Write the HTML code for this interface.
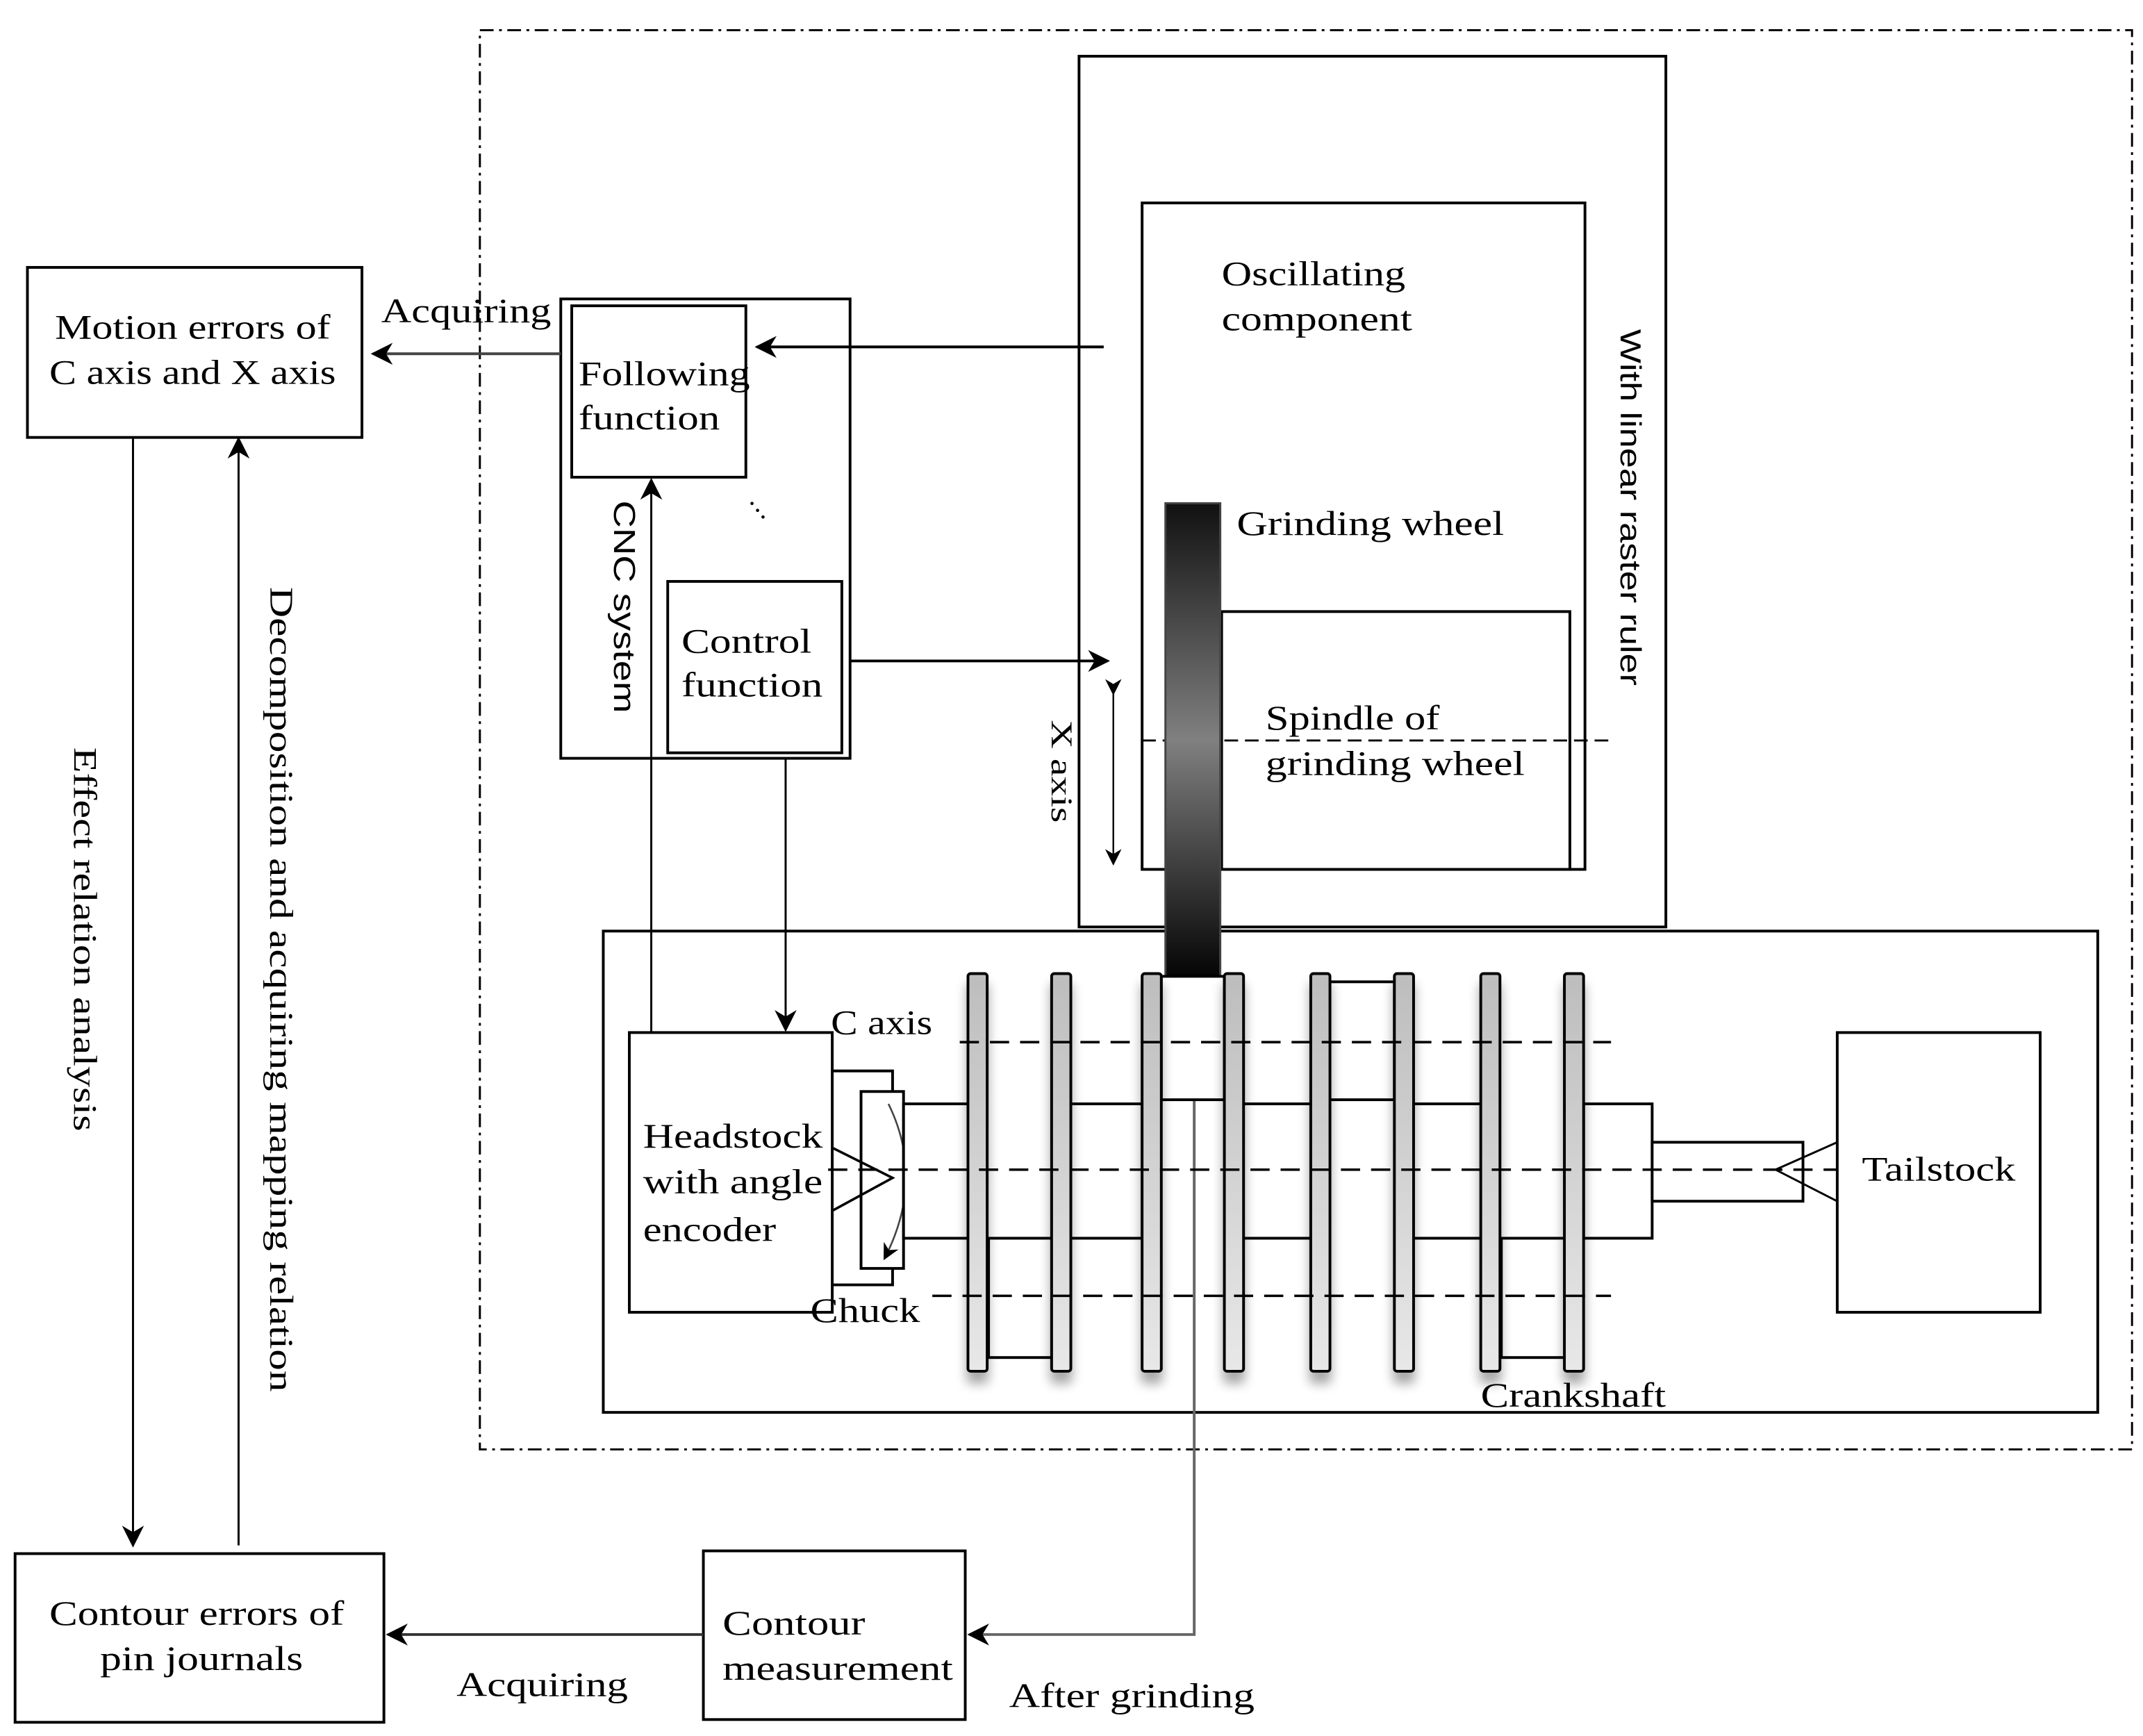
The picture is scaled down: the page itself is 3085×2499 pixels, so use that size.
<!DOCTYPE html>
<html><head><meta charset="utf-8"><style>html,body{margin:0;padding:0;background:#fff}svg{display:block}</style></head>
<body>
<svg width="3085" height="2499" viewBox="0 0 1563 1266" preserveAspectRatio="none" xmlns="http://www.w3.org/2000/svg" font-family="Liberation Serif, serif" font-size="25" fill="none" stroke="#000">
<defs>
<marker id="a" viewBox="0 0 10 10" refX="9" refY="5" markerWidth="12" markerHeight="12" markerUnits="userSpaceOnUse" orient="auto"><path d="M0,0 L10,5 L0,10 L3,5 z" fill="#000" stroke="none"/></marker>
<marker id="b" viewBox="0 0 10 10" refX="9" refY="5" markerWidth="16" markerHeight="16" markerUnits="userSpaceOnUse" orient="auto"><path d="M0,0 L10,5 L0,10 L3,5 z" fill="#000" stroke="none"/></marker>
<linearGradient id="gw" x1="0" y1="0" x2="0" y2="1"><stop offset="0" stop-color="#111"/><stop offset="0.5" stop-color="#808080"/><stop offset="1" stop-color="#050505"/></linearGradient>
<linearGradient id="web" x1="0" y1="0" x2="0" y2="1"><stop offset="0" stop-color="#bdbdbd"/><stop offset="1" stop-color="#e8e8e8"/></linearGradient>
<filter id="sh" x="-50%" y="-10%" width="200%" height="130%"><feGaussianBlur in="SourceAlpha" stdDeviation="4"/><feOffset dy="8"/><feComponentTransfer><feFuncA type="linear" slope="0.35"/></feComponentTransfer><feMerge><feMergeNode/><feMergeNode in="SourceGraphic"/></feMerge></filter>
</defs>
<rect x="350" y="22" width="1205" height="1035" stroke-width="1.5" stroke-dasharray="10,4,2,4"/>
<rect x="787" y="41" width="428" height="635" stroke-width="2"/>
<rect x="833" y="148" width="323" height="486" stroke-width="2"/>
<rect x="891" y="446" width="254" height="188" stroke-width="2"/>
<line x1="833" y1="540" x2="1178" y2="540" stroke-width="1.5" stroke-dasharray="10,5"/>
<rect x="440" y="679" width="1090" height="351" stroke-width="2"/>
<rect x="850" y="367" width="40" height="345" fill="url(#gw)" stroke="#444" stroke-width="1.5"/>
<g fill="#000" stroke="none" lengthAdjust="spacingAndGlyphs">
<text x="891" y="208" textLength="134" lengthAdjust="spacingAndGlyphs">Oscillating</text>
<text x="891" y="241" textLength="139" lengthAdjust="spacingAndGlyphs">component</text>
<text x="902" y="390" textLength="195" lengthAdjust="spacingAndGlyphs">Grinding wheel</text>
<text x="923" y="532" textLength="127" lengthAdjust="spacingAndGlyphs">Spindle of</text>
<text x="923" y="565" textLength="189" lengthAdjust="spacingAndGlyphs">grinding wheel</text>
<text transform="translate(1182,240) rotate(90)" font-family="Liberation Sans, sans-serif" font-size="21" textLength="260" lengthAdjust="spacingAndGlyphs">With linear raster ruler</text>
<text transform="translate(767,525) rotate(90)" font-size="22" textLength="75" lengthAdjust="spacingAndGlyphs">X axis</text>
<text x="278" y="235" textLength="124" lengthAdjust="spacingAndGlyphs">Acquiring</text>
<text x="40" y="247" textLength="201" lengthAdjust="spacingAndGlyphs">Motion errors of</text>
<text x="36" y="280" textLength="209" lengthAdjust="spacingAndGlyphs">C axis and X axis</text>
<text x="422" y="281" textLength="125" lengthAdjust="spacingAndGlyphs">Following</text>
<text x="422" y="313" textLength="103" lengthAdjust="spacingAndGlyphs">function</text>
<text x="497" y="476" textLength="95" lengthAdjust="spacingAndGlyphs">Control</text>
<text x="497" y="508" textLength="103" lengthAdjust="spacingAndGlyphs">function</text>
<text transform="translate(448,365) rotate(90)" font-family="Liberation Sans, sans-serif" font-size="22" textLength="155" lengthAdjust="spacingAndGlyphs">CNC system</text>
<text x="546" y="368" font-size="20">.</text><text x="550" y="373" font-size="20">.</text><text x="554" y="378" font-size="20">.</text>
<text transform="translate(54,545) rotate(90)" font-size="24" textLength="280" lengthAdjust="spacingAndGlyphs">Effect relation analysis</text>
<text transform="translate(197,428) rotate(90)" font-size="24" textLength="587" lengthAdjust="spacingAndGlyphs">Decomposition and acquiring mapping relation</text>
<text x="36" y="1185" textLength="215" lengthAdjust="spacingAndGlyphs">Contour errors of</text>
<text x="73" y="1218" textLength="148" lengthAdjust="spacingAndGlyphs">pin journals</text>
<text x="527" y="1192" textLength="104" lengthAdjust="spacingAndGlyphs">Contour</text>
<text x="527" y="1225" textLength="168" lengthAdjust="spacingAndGlyphs">measurement</text>
<text x="333" y="1237" textLength="125" lengthAdjust="spacingAndGlyphs">Acquiring</text>
<text x="736" y="1245" textLength="179" lengthAdjust="spacingAndGlyphs">After grinding</text>
<text x="469" y="837" textLength="131" lengthAdjust="spacingAndGlyphs">Headstock</text>
<text x="469" y="870" textLength="131" lengthAdjust="spacingAndGlyphs">with angle</text>
<text x="469" y="905" textLength="97" lengthAdjust="spacingAndGlyphs">encoder</text>
<text x="606" y="754" textLength="74" lengthAdjust="spacingAndGlyphs">C axis</text>
<text x="591" y="964" textLength="80" lengthAdjust="spacingAndGlyphs">Chuck</text>
<text x="1080" y="1026" textLength="135" lengthAdjust="spacingAndGlyphs">Crankshaft</text>
<text x="1358" y="861" textLength="112" lengthAdjust="spacingAndGlyphs">Tailstock</text>
</g>
<rect x="20" y="195" width="244" height="124" stroke-width="2"/>
<rect x="409" y="218" width="211" height="335" stroke-width="2"/>
<rect x="417" y="223" width="127" height="125" stroke-width="2"/>
<rect x="487" y="424" width="127" height="125" stroke-width="2"/>
<rect x="11" y="1133" width="269" height="123" stroke-width="2"/>
<rect x="513" y="1131" width="191" height="123" stroke-width="2"/>
<rect x="459" y="753" width="148" height="204" stroke-width="2"/>
<rect x="1340" y="753" width="148" height="204" stroke-width="2"/>
<line x1="805" y1="253" x2="552" y2="253" stroke-width="2" marker-end="url(#b)"/>
<line x1="620" y1="482" x2="808" y2="482" stroke-width="2" marker-end="url(#b)"/>
<line x1="409" y1="258" x2="272" y2="258" stroke-width="2" stroke="#444" marker-end="url(#b)"/>
<line x1="812" y1="506" x2="812" y2="630" stroke-width="1.2" marker-start="url(#a)" marker-end="url(#a)"/>
<line x1="97" y1="320" x2="97" y2="1127" stroke-width="1.5" marker-end="url(#b)"/>
<line x1="174" y1="1127" x2="174" y2="320" stroke-width="1.5" marker-end="url(#b)"/>
<line x1="573" y1="553" x2="573" y2="751" stroke-width="1.5" marker-end="url(#b)"/>
<line x1="475" y1="753" x2="475" y2="350" stroke-width="1.5" marker-end="url(#b)"/>
<line x1="513" y1="1192" x2="283" y2="1192" stroke-width="2" stroke="#333" marker-end="url(#b)"/>
<polyline points="871,802 871,1192 707,1192" stroke-width="2" stroke="#666" marker-end="url(#b)"/>
<polyline points="607,781 651,781 651,796" stroke-width="2"/>
<polyline points="607,937 651,937 651,925" stroke-width="2"/>
<rect x="628" y="796" width="31" height="129" stroke-width="2"/>
<polyline points="607,837 651,859 607,883" stroke-width="1.8"/>
<path d="M648,805 Q675,860 645,918" stroke="#444" stroke-width="1.3" marker-end="url(#a)"/>
<g stroke-width="2" fill="#fff">
<rect x="659" y="805" width="54" height="98"/>
<rect x="779" y="805" width="54" height="98"/>
<rect x="905" y="805" width="55" height="98"/>
<rect x="1029" y="805" width="54" height="98"/>
<rect x="1155" y="805" width="50" height="98"/>
<rect x="1205" y="833" width="110" height="43"/>
<rect x="847" y="712" width="46" height="90"/>
<rect x="970" y="716" width="47" height="86"/>
<rect x="721" y="903" width="47" height="87"/>
<rect x="1095" y="903" width="47" height="87"/>
</g>
<g fill="url(#web)" stroke-width="2" filter="url(#sh)">
<rect x="706" y="710" width="14" height="290" rx="2"/>
<rect x="767" y="710" width="14" height="290" rx="2"/>
<rect x="833" y="710" width="14" height="290" rx="2"/>
<rect x="893" y="710" width="14" height="290" rx="2"/>
<rect x="956" y="710" width="14" height="290" rx="2"/>
<rect x="1017" y="710" width="14" height="290" rx="2"/>
<rect x="1080" y="710" width="14" height="290" rx="2"/>
<rect x="1141" y="710" width="14" height="290" rx="2"/>
</g>
<g stroke-width="1.8" stroke-dasharray="14,8">
<line x1="700" y1="760" x2="1175" y2="760"/>
<line x1="604" y1="853" x2="1340" y2="853"/>
<line x1="680" y1="945" x2="1175" y2="945"/>
</g>
<polyline points="1340,833 1295,853 1340,876" stroke-width="1.5"/>
</svg>
</body></html>
